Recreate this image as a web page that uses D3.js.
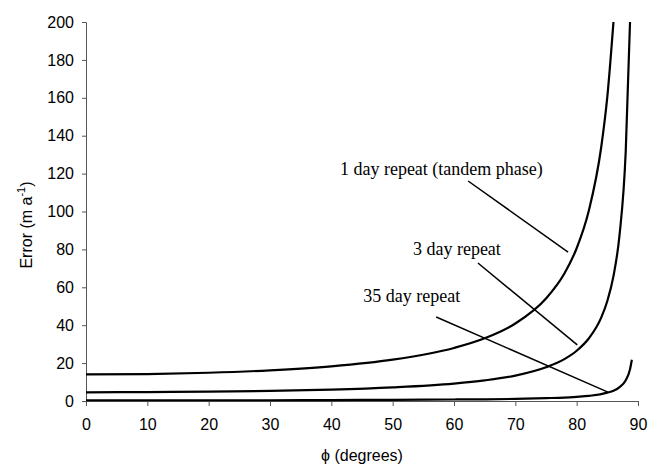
<!DOCTYPE html>
<html>
<head>
<meta charset="utf-8">
<script src="https://cdn.jsdelivr.net/npm/d3@7"></script>
<style>
  body { margin: 0; background: #fff; }
  svg { display: block; }
</style>
</head>
<body>
<svg id="chart" width="658" height="472"></svg>
<script>
// phi (degrees) sample points
const phi = [0, 10, 20, 30, 40, 50, 60, 65, 70, 75, 78, 80, 82, 84, 85, 86, 87, 88, 88.7, 89];

// error values (m a-1)
const oneDay = [14, 14.2, 14.9, 16.2, 18.3, 21.8, 28.0, 33.1, 40.9, 54.1, 67.3, 80.6, 100.6, 133.9, 160.6, 200];
const threeDay = [4.6, 4.7, 4.9, 5.3, 6.0, 7.2, 9.2, 10.9, 13.4, 17.8, 22.1, 26.5, 33.1, 44.0, 52.8, 65.9, 87.9, 131.8, 200];
const thirtyFiveDay = [0.4, 0.4, 0.4, 0.4, 0.5, 0.6, 0.8, 0.9, 1.1, 1.5, 1.8, 2.2, 2.7, 3.6, 4.4, 5.4, 7.3, 10.9, 16.8, 21.8];

const xTicks = [0, 10, 20, 30, 40, 50, 60, 70, 80, 90];
const yTicks = [0, 20, 40, 60, 80, 100, 120, 140, 160, 180, 200];

// annotations: label text, label anchor, leader line (data units)
const labels = ["1 day repeat (tandem phase)", "3 day repeat", "35 day repeat"];
const labelPos = [[41.4, 119.3], [53.3, 77.0], [45.2, 52.2]];
const leaders = [
  [[62.3, 116.1], [78.6, 78.6]],
  [[63.9, 72.8], [80.1, 29.6]],
  [[57.1, 44.3], [85.1, 4.7]]
];

const width = 658, height = 472;
const margin = { top: 22, right: 20, bottom: 71, left: 86 };

const svg = d3.select("#chart");

const x = d3.scaleLinear().domain([0, 90]).range([margin.left, width - margin.right]);
const y = d3.scaleLinear().domain([0, 200]).range([height - margin.bottom, margin.top]);

// axes
const xAxis = svg.append("g")
  .attr("transform", `translate(0,${height - margin.bottom})`)
  .call(d3.axisBottom(x).tickValues(xTicks).tickSizeOuter(0).tickSize(5).tickPadding(13));

const yAxis = svg.append("g")
  .attr("transform", `translate(${margin.left},0)`)
  .call(d3.axisLeft(y).tickValues(yTicks).tickSizeOuter(0).tickSize(4).tickPadding(8));

[xAxis, yAxis].forEach(g => {
  g.selectAll(".domain, .tick line").attr("stroke", "#555");
  g.selectAll("text")
    .attr("font-family", "Arial, 'Liberation Sans', sans-serif")
    .attr("font-size", 16)
    .attr("fill", "#000");
});

// axis titles
svg.append("text")
  .attr("x", (margin.left + width - margin.right) / 2)
  .attr("y", 461)
  .attr("text-anchor", "middle")
  .attr("font-family", "Arial, 'Liberation Sans', sans-serif")
  .attr("font-size", 16)
  .text("ϕ (degrees)");

const yTitle = svg.append("text")
  .attr("transform", "translate(32,225) rotate(-90)")
  .attr("text-anchor", "middle")
  .attr("font-family", "Arial, 'Liberation Sans', sans-serif")
  .attr("font-size", 16);
yTitle.append("tspan").text("Error (m a");
yTitle.append("tspan").attr("dy", -7).attr("font-size", 11).text("-1");
yTitle.append("tspan").attr("dy", 7).text(")");

// curves
const line = d3.line()
  .x(d => x(d[0]))
  .y(d => y(d[1]))
  .curve(d3.curveMonotoneX);

const series = [oneDay, threeDay, thirtyFiveDay];
svg.append("g")
  .selectAll("path")
  .data(series)
  .join("path")
  .attr("fill", "none")
  .attr("stroke", "#000")
  .attr("stroke-width", 2.2)
  .attr("d", vals => line(vals.map((v, i) => [phi[i], v])));

// leader lines
svg.append("g")
  .selectAll("line")
  .data(leaders)
  .join("line")
  .attr("x1", d => x(d[0][0]))
  .attr("y1", d => y(d[0][1]))
  .attr("x2", d => x(d[1][0]))
  .attr("y2", d => y(d[1][1]))
  .attr("stroke", "#000")
  .attr("stroke-width", 1.5);

// labels
svg.append("g")
  .attr("font-family", "'Times New Roman', 'Liberation Serif', serif")
  .attr("font-size", 18)
  .selectAll("text")
  .data(labels)
  .join("text")
  .attr("x", (d, i) => x(labelPos[i][0]))
  .attr("y", (d, i) => y(labelPos[i][1]))
  .text(d => d);
</script>
</body>
</html>
